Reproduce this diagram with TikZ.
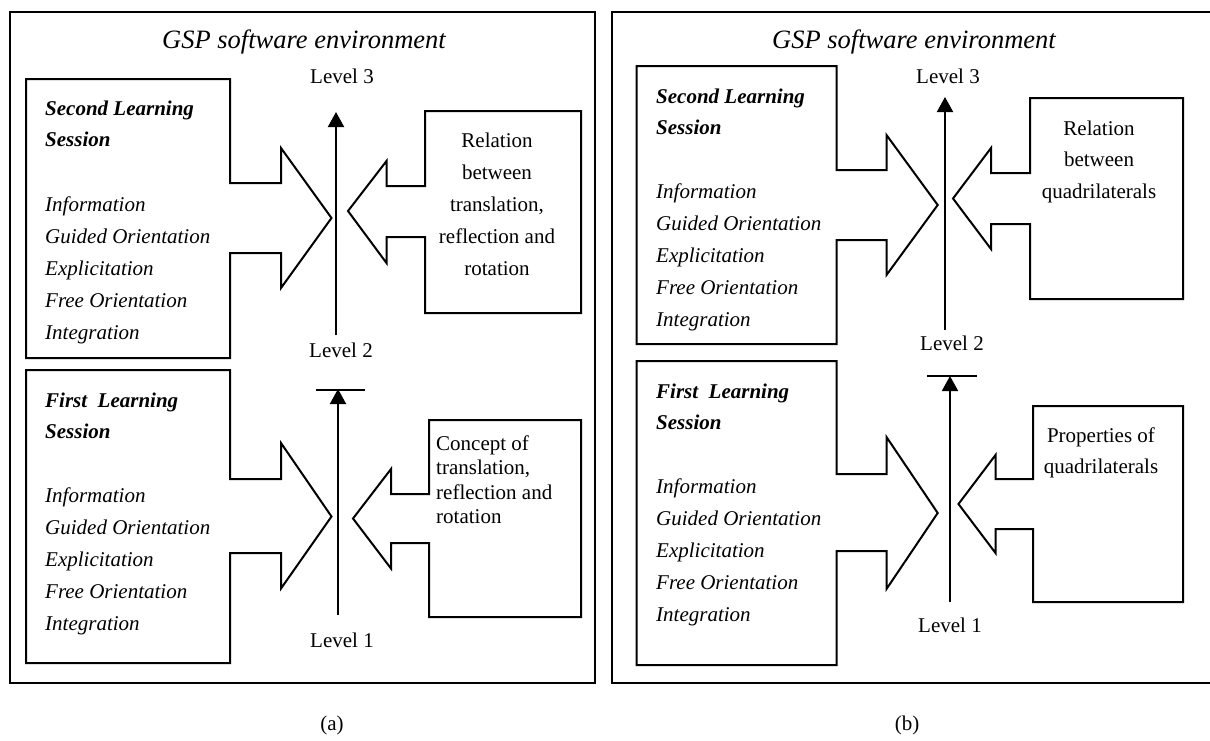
\documentclass[tikz,border=0pt]{standalone}
\usepackage{fontspec}
\setmainfont{Liberation Serif}
\usetikzlibrary{arrows.meta}
\begin{document}
\begin{tikzpicture}[x=1pt,y=-1pt,
  ln/.style={line width=2pt, line join=miter},
  up/.style={ln,-{Triangle[length=15pt,width=16pt]}},
  hd/.style={inner sep=0pt, anchor=base west, align=left, font=\fontsize{21}{31.5}\selectfont\bfseries\itshape},
  stg/.style={inner sep=0pt, anchor=base west, align=left, font=\fontsize{21}{32}\selectfont\itshape},
  ctr/.style={inner sep=0pt, anchor=base, align=center, font=\fontsize{21}{32}\selectfont},
  lvl/.style={inner sep=0pt, anchor=base, font=\fontsize{21}{25}\selectfont},
  ttl/.style={inner sep=0pt, anchor=base, font=\fontsize{26.5}{30}\selectfont\itshape}]
\fill[white] (0,0) rectangle (1210,740);
\useasboundingbox (0,0) rectangle (1210,740);

% (multi-line nodes are anchored at the baseline of their last line)

% ---------------- panel (a) ----------------
\draw[ln] (10,12) rectangle (594.5,682.5);
\node[ttl] (ta) at (304,48) {GSP software environment};

% upper left block arrow
\draw[ln] (26,79) -- (230,79) -- (230,183) -- (281,183) -- (281,148) -- (331.5,218)
  -- (281,288) -- (281,253) -- (230,253) -- (230,358) -- (26,358) -- cycle;
\node[hd] (ahs2) at (45,146.5) {Second Learning\\Session};
\node[stg] (ast2) at (45,339) {Information\\Guided Orientation\\Explicitation\\Free Orientation\\Integration};

% upper right block arrow
\draw[ln] (425,111) -- (581,111) -- (581,313) -- (425,313) -- (425,237) -- (386.5,237)
  -- (386.5,263) -- (348,211) -- (386.5,161) -- (386.5,186) -- (425,186) -- cycle;
\node[ctr] (arel) at (497,275) {Relation\\between\\translation,\\reflection and\\rotation};

% lower left block arrow
\draw[ln] (26,370) -- (230,370) -- (230,479) -- (281,479) -- (281,443) -- (331.5,516.5)
  -- (281,588.5) -- (281,553) -- (230,553) -- (230,663) -- (26,663) -- cycle;
\node[hd] (ahs1) at (45,438.5) {First\ \ Learning\\Session};
\node[stg] (ast1) at (45,630) {Information\\Guided Orientation\\Explicitation\\Free Orientation\\Integration};

% lower right block arrow
\draw[ln] (429,420) -- (581,420) -- (581,617) -- (429,617) -- (429,543) -- (391,543)
  -- (391,568.5) -- (353,518.5) -- (391,469) -- (391,494) -- (429,494) -- cycle;
\node[inner sep=0pt, anchor=base west, align=left, font=\fontsize{21}{24.5}\selectfont] (acon) at (436,523.5) {Concept of\\translation,\\reflection and\\rotation};

% levels (a)
\node[lvl] (aL3) at (342,83) {Level 3};
\node[lvl] (aL2) at (341,357) {Level 2};
\node[lvl] (aL1) at (342,647) {Level 1};
\coordinate (aUb) at (336,335);
\coordinate (aUt) at (336,112);
\coordinate (aDb) at (338,615);
\coordinate (aDt) at (338,389);
\coordinate (aBl) at (316,390);
\coordinate (aBr) at (365,390);
\draw[up] (aUb) -- (aUt);
\draw[up] (aDb) -- (aDt);
\draw[ln] (aBl) -- (aBr);

\node[lvl] (capa) at (332,730) {(a)};

% ---------------- panel (b) ----------------
\draw[ln] (1212,12) -- (611.5,12) -- (611.5,682.5) -- (1212,682.5);
\node[ttl] (tb) at (914,48) {GSP software environment};

% upper left block arrow
\draw[ln] (636.5,66) -- (836.5,66) -- (836.5,170) -- (886.5,170) -- (886.5,135) -- (937.7,205)
  -- (886.5,275) -- (886.5,240) -- (836.5,240) -- (836.5,344) -- (636.5,344) -- cycle;
\node[hd] (bhs2) at (656,134.5) {Second Learning\\Session};
\node[stg] (bst2) at (656,326) {Information\\Guided Orientation\\Explicitation\\Free Orientation\\Integration};

% upper right block arrow
\draw[ln] (1030,98) -- (1183,98) -- (1183,299) -- (1030,299) -- (1030,224) -- (991,224)
  -- (991,249) -- (953,198.5) -- (991,148) -- (991,173) -- (1030,173) -- cycle;
\node[ctr, font=\fontsize{21}{31.5}\selectfont] (brel) at (1099,198) {Relation\\between\\quadrilaterals};

% lower left block arrow
\draw[ln] (636.5,361) -- (836.5,361) -- (836.5,474) -- (886.5,474) -- (886.5,437) -- (937.7,513)
  -- (886.5,589) -- (886.5,551) -- (836.5,551) -- (836.5,665) -- (636.5,665) -- cycle;
\node[hd] (bhs1) at (656,429.5) {First\ \ Learning\\Session};
\node[stg] (bst1) at (656,621) {Information\\Guided Orientation\\Explicitation\\Free Orientation\\Integration};

% lower right block arrow
\draw[ln] (1033,406) -- (1183,406) -- (1183,602) -- (1033,602) -- (1033,529) -- (995.5,529)
  -- (995.5,553) -- (958.5,504) -- (995.5,455) -- (995.5,479) -- (1033,479) -- cycle;
\node[ctr, font=\fontsize{21}{31.5}\selectfont] (bprop) at (1101,473.5) {Properties of\\quadrilaterals};

% levels (b)
\node[lvl] (bL3) at (948,83) {Level 3};
\node[lvl] (bL2) at (952,350) {Level 2};
\node[lvl] (bL1) at (950,632) {Level 1};
\coordinate (bUb) at (945,330);
\coordinate (bUt) at (945,97);
\coordinate (bDb) at (950,602);
\coordinate (bDt) at (950,376);
\coordinate (bBl) at (927,376);
\coordinate (bBr) at (977,376);
\draw[up] (bUb) -- (bUt);
\draw[up] (bDb) -- (bDt);
\draw[ln] (bBl) -- (bBr);

\node[lvl] (capb) at (907,730) {(b)};
\end{tikzpicture}
\end{document}
